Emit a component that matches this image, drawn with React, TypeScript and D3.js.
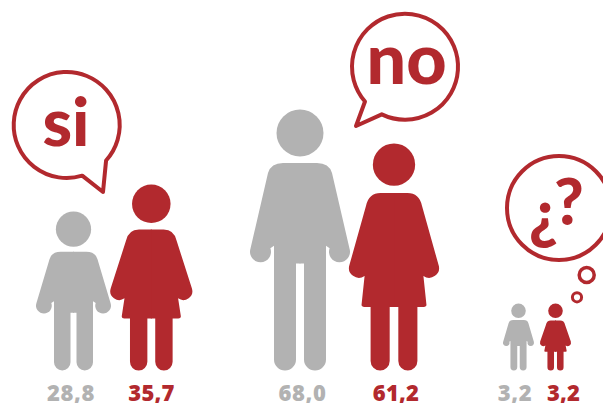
import React from "react";
import * as d3 from "d3";

const groups = ["si", "no", "ns"];
const menValues = [28.8, 68.0, 3.2];
const womenValues = [35.7, 61.2, 3.2];
const menLabels = ["28,8", "68,0", "3,2"];
const womenLabels = ["35,7", "61,2", "3,2"];

const RED = "#b2292e";
const GREY = "#b2b2b2";
const BASE = 370.5;
const FONT = "'Open Sans', sans-serif";

// figure size scales (not strictly proportional in the original)
const menHeight = d3.scaleLinear().domain([3.2, 28.8, 68]).range([67, 159, 261]);
const menWidth = d3.scaleLinear().domain([3.2, 28.8, 68]).range([31, 75, 100]);
const womenHeight = d3.scaleLinear().domain([3.2, 35.7, 61.2]).range([67, 186, 227]);
const womenWidth = d3.scaleLinear().domain([3.2, 35.7, 61.2]).range([31, 82, 90]);
const menX = d3.scaleOrdinal<string, number>().domain(groups).range([73.5, 300, 518.5]);
const womenX = d3.scaleOrdinal<string, number>().domain(groups).range([151.3, 394, 555.5]);
const menLabelX = d3.scaleOrdinal<string, number>().domain(groups).range([71, 302.5, 515]);
const womenLabelX = d3.scaleOrdinal<string, number>().domain(groups).range([151.5, 396, 563.5]);

const polar = (cx: number, cy: number, r: number, deg: number): [number, number] => [
  cx + r * Math.cos((deg * Math.PI) / 180),
  cy + r * Math.sin((deg * Math.PI) / 180),
];

function manHalf(h: number, w: number, side: number) {
  const r = 0.235 * w;
  const top = BASE - h;
  const sy = top + 2 * r + 0.065 * w;
  const X = (x: number) => side * x;
  const handR = 0.105 * w;
  const hx = w / 2 - handR;
  const hy = sy + 0.34 * h;
  const t = 0.26 * w;
  const g = 0.04 * w;
  const crotch = sy + 0.385 * h;
  const legR = (t - g) / 2;
  const [ox, oy] = polar(hx, hy, handR, -18);
  const [ix, iy] = polar(hx, hy, handR, 200);
  const sw = side > 0 ? 1 : 0;
  return [
    `M${X(-0.5)},${sy}`,
    `L${X(0.17 * w)},${sy}`,
    `Q${X(0.29 * w)},${sy} ${X(0.32 * w)},${sy + 0.1 * w}`,
    `L${X(ox)},${oy}`,
    `A${handR},${handR} 0 1 ${sw} ${X(ix)},${iy}`,
    `L${X(t)},${hy - 0.06 * w}`,
    `L${X(t)},${BASE - legR}`,
    `A${legR},${legR} 0 0 ${sw} ${X(g)},${BASE - legR}`,
    `L${X(g)},${crotch}`,
    `L${X(-0.5)},${crotch}Z`,
  ].join("");
}

function womanHalf(h: number, w: number, side: number) {
  const r = 0.235 * w;
  const top = BASE - h;
  const sy = top + 2 * r + 0.08 * w;
  const X = (x: number) => side * x;
  const handR = 0.11 * w;
  const hx = w / 2 - handR;
  const hy = sy + 0.33 * h;
  const skirtY = BASE - 0.28 * h;
  const skirt = 0.36 * w;
  const c = 0.03 * w;
  const t = 0.26 * w;
  const g = 0.048 * w;
  const legR = (t - g) / 2;
  const [ox, oy] = polar(hx, hy, handR, -18);
  const [ix, iy] = polar(hx, hy, handR, 125);
  const sw = side > 0 ? 1 : 0;
  return [
    `M${X(-0.5)},${sy}`,
    `L${X(0.15 * w)},${sy}`,
    `Q${X(0.28 * w)},${sy} ${X(0.31 * w)},${sy + 0.14 * w}`,
    `L${X(ox)},${oy}`,
    `A${handR},${handR} 0 0 ${sw} ${X(ix)},${iy}`,
    `L${X(skirt)},${skirtY - c}`,
    `Q${X(skirt + 0.005 * w)},${skirtY} ${X(skirt - c)},${skirtY}`,
    `L${X(t)},${skirtY}`,
    `L${X(t)},${BASE - legR}`,
    `A${legR},${legR} 0 0 ${sw} ${X(g)},${BASE - legR}`,
    `L${X(g)},${skirtY}`,
    `L${X(-0.5)},${skirtY}Z`,
  ].join("");
}

function Figure({ cx, h, w, fill, half }: { cx: number; h: number; w: number; fill: string; half: typeof manHalf }) {
  const r = 0.235 * w;
  return (
    <g transform={`translate(${cx},0)`} fill={fill}>
      <circle cx={0} cy={BASE - h + r} r={r} />
      <path d={half(h, w, 1)} />
      <path d={half(h, w, -1)} />
    </g>
  );
}

function bubblePath(cx: number, cy: number, r: number, a: number, b: number, tip: [number, number]) {
  const [ax, ay] = polar(cx, cy, r, a);
  const [bx, by] = polar(cx, cy, r, b);
  return `M${ax},${ay}A${r},${r} 0 1 1 ${bx},${by}L${tip[0]},${tip[1]}Z`;
}

export default function App() {
  return (
    <svg
      width={603}
      height={403}
      viewBox="0 0 603 403"
      style={{ position: "absolute", left: 0, top: 0, background: "#fff" }}
    >
      {groups.map((g, i) => (
        <g key={g}>
          <Figure cx={menX(g)} h={menHeight(menValues[i])} w={menWidth(menValues[i])} fill={GREY} half={manHalf} />
          <Figure cx={womenX(g)} h={womenHeight(womenValues[i])} w={womenWidth(womenValues[i])} fill={RED} half={womanHalf} />
          <text x={menLabelX(g)} y={400.5} textAnchor="middle" fontFamily={FONT} fontWeight={800} fontSize={22} letterSpacing={0.6} fill={GREY}>
            {menLabels[i]}
          </text>
          <text x={womenLabelX(g)} y={400.5} textAnchor="middle" fontFamily={FONT} fontWeight={800} fontSize={22} letterSpacing={0.2} fill={RED}>
            {womenLabels[i]}
          </text>
        </g>
      ))}

      <g fill="#fff" stroke={RED} strokeWidth={4} strokeLinejoin="round">
        <path d={bubblePath(66.7, 125, 53, 73, 42, [103, 192])} />
        <path d={bubblePath(405, 66.7, 53, 139, 116, [356, 126])} />
        <circle cx={559} cy={208} r={52} />
        <circle cx={586.7} cy={275} r={7.5} strokeWidth={3.5} />
        <circle cx={577} cy={297.3} r={4.6} strokeWidth={3} />
      </g>

      <g fill={RED} fontFamily="Lato, sans-serif" fontWeight={900} textAnchor="middle">
        <text x={66} y={146} fontSize={67}>si</text>
        <text x={406.5} y={84} fontSize={70}>no</text>
        <text x={543.5} y={236} fontSize={64}>¿</text>
        <text x={569} y={225} fontSize={64}>?</text>
      </g>
    </svg>
  );
}
